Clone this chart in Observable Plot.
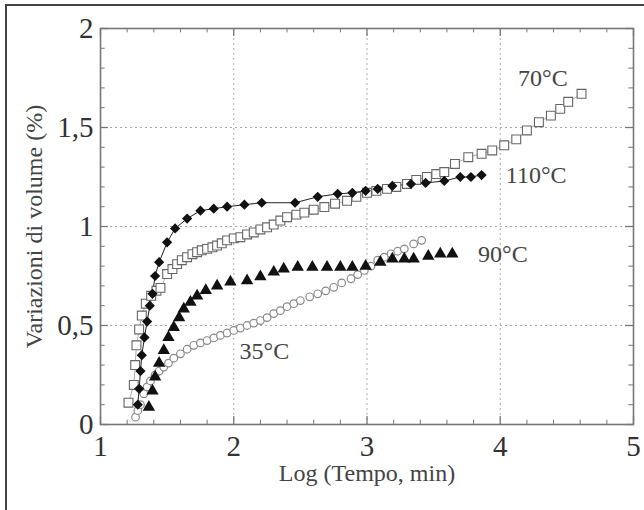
<!DOCTYPE html>
<html>
<head>
<meta charset="utf-8">
<script src="https://cdn.jsdelivr.net/npm/d3@7"></script>
<script src="https://cdn.jsdelivr.net/npm/@observablehq/plot@0.6"></script>
<style>
  html, body { margin: 0; padding: 0; background: #fff; }
  #wrap { position: relative; width: 644px; height: 510px; overflow: hidden; }
  #frame { position: absolute; left: 5px; top: 4px; width: 650px; height: 520px;
           border-left: 2px solid #444; border-top: 2px solid #444; box-sizing: border-box; pointer-events: none; }
  #chart { position: absolute; left: 0; top: 0; }
</style>
</head>
<body>
<div id="wrap"><div id="chart"></div><div id="frame"></div></div>
<script>
// ---- data ----
const s110x = [1.28,1.29,1.30,1.31,1.33,1.35,1.37,1.39,1.41,1.44,1.50,1.56,1.65,1.75,1.85,1.95,2.08,2.21,2.46,2.63,2.78,2.89,2.99,3.08,3.19,3.33,3.44,3.58,3.70,3.78,3.86];
const s110y = [0.10,0.18,0.27,0.35,0.44,0.52,0.60,0.66,0.75,0.82,0.92,0.99,1.04,1.08,1.09,1.10,1.11,1.12,1.12,1.15,1.165,1.17,1.18,1.19,1.205,1.215,1.22,1.23,1.25,1.25,1.26];

const s70x = [1.21,1.25,1.26,1.27,1.29,1.31,1.34,1.38,1.42,1.45,1.50,1.54,1.575,1.61,1.65,1.69,1.725,1.76,1.80,1.84,1.875,1.91,1.95,2.00,2.05,2.10,2.15,2.20,2.25,2.30,2.35,2.40,2.47,2.53,2.60,2.68,2.76,2.85,2.92,3.00,3.07,3.15,3.22,3.30,3.37,3.45,3.52,3.58,3.66,3.76,3.86,3.94,4.03,4.12,4.20,4.29,4.38,4.45,4.51,4.61];
const s70y = [0.11,0.20,0.30,0.40,0.48,0.55,0.61,0.65,0.675,0.69,0.76,0.785,0.81,0.83,0.845,0.86,0.87,0.88,0.887,0.895,0.904,0.915,0.93,0.94,0.946,0.96,0.97,0.985,0.996,1.01,1.03,1.047,1.06,1.07,1.085,1.098,1.115,1.13,1.15,1.17,1.18,1.19,1.20,1.215,1.235,1.25,1.265,1.275,1.316,1.35,1.367,1.384,1.41,1.44,1.485,1.527,1.56,1.594,1.63,1.67];

const s90x = [1.363,1.39,1.41,1.44,1.475,1.51,1.55,1.59,1.625,1.675,1.725,1.79,1.875,1.975,2.10,2.20,2.30,2.375,2.48,2.59,2.70,2.80,2.89,2.99,3.10,3.19,3.28,3.35,3.46,3.55,3.64];
const s90y = [0.088,0.17,0.24,0.31,0.374,0.44,0.49,0.54,0.584,0.618,0.65,0.677,0.70,0.72,0.727,0.747,0.77,0.786,0.795,0.795,0.795,0.795,0.795,0.80,0.82,0.836,0.836,0.836,0.85,0.862,0.862];

const s35x = [1.263,1.28,1.30,1.325,1.35,1.375,1.41,1.44,1.475,1.51,1.55,1.60,1.65,1.70,1.75,1.80,1.85,1.90,1.95,2.00,2.05,2.10,2.15,2.20,2.25,2.30,2.35,2.40,2.45,2.50,2.57,2.63,2.69,2.75,2.81,2.88,2.93,2.98,3.03,3.08,3.13,3.18,3.23,3.28,3.35,3.41];
const s35y = [0.037,0.07,0.10,0.155,0.19,0.22,0.25,0.27,0.29,0.31,0.335,0.357,0.38,0.40,0.412,0.424,0.437,0.45,0.462,0.475,0.487,0.50,0.512,0.525,0.54,0.56,0.575,0.595,0.61,0.626,0.645,0.66,0.675,0.693,0.715,0.736,0.757,0.778,0.80,0.83,0.845,0.862,0.875,0.887,0.912,0.93];

const labelText = ["70°C","110°C","90°C","35°C"];
const labelX = [4.32, 4.27, 4.02, 2.23];
const labelY = [1.75, 1.26, 0.86, 0.37];

const xTicks = [1,2,3,4,5];
const yTicks = [0,0.5,1,1.5,2];
const xGrid = [2,3,4];
const yGrid = [0.5,1,1.5];
const yMinor = d3.range(0.1, 2.0, 0.1).map(v => +v.toFixed(1)).filter(v => !yTicks.includes(v));
const xMinor = d3.range(1.2, 5, 0.2).map(v => +v.toFixed(1)).filter(v => !xTicks.includes(v));

const xTitle = "Log (Tempo, min)";
const yTitle = "Variazioni di volume (%)";

// ---- build tables ----
const zip = (xs, ys) => xs.map((x, i) => ({x, y: ys[i]}));
const d110 = zip(s110x, s110y), d70 = zip(s70x, s70y), d90 = zip(s90x, s90y), d35 = zip(s35x, s35y);
const labels = labelText.map((t, i) => ({t, x: labelX[i], y: labelY[i]}));

const font = "'Liberation Serif', 'Times New Roman', serif";
const axisColor = "#777";

const chart = Plot.plot({
  width: 644, height: 510,
  marginLeft: 100, marginRight: 11, marginTop: 28, marginBottom: 86,
  x: {domain: [1, 5]},
  y: {domain: [0, 2]},
  style: {fontFamily: font, background: "transparent", color: "#333"},
  marks: [
    // grid
    Plot.ruleX(xGrid, {stroke: "#aaa", strokeDasharray: "2,3", strokeWidth: 1}),
    Plot.ruleY(yGrid, {stroke: "#aaa", strokeDasharray: "2,3", strokeWidth: 1}),
    // minor ticks (inward)
    Plot.ruleY(yMinor, {x1: 1, x2: 1.035, stroke: axisColor}),
    Plot.ruleY(yMinor, {x1: 5, x2: 4.965, stroke: axisColor}),
    Plot.ruleX(xMinor, {y1: 0, y2: 0.022, stroke: axisColor}),
    Plot.ruleX(xMinor, {y1: 2, y2: 1.978, stroke: axisColor}),
    // major ticks (inward)
    Plot.ruleY(yTicks, {x1: 1, x2: 1.06, stroke: axisColor, strokeWidth: 1.3}),
    Plot.ruleY(yTicks, {x1: 5, x2: 4.94, stroke: axisColor, strokeWidth: 1.3}),
    Plot.ruleX(xTicks, {y1: 0, y2: 0.04, stroke: axisColor, strokeWidth: 1.3}),
    Plot.ruleX(xTicks, {y1: 2, y2: 1.96, stroke: axisColor, strokeWidth: 1.3}),
    // frame
    Plot.frame({stroke: axisColor, strokeWidth: 1.6}),
    // axes labels
    Plot.axisX(xTicks, {tickSize: 0, tickPadding: 11, fontSize: 29, fill: "#333", label: null,
      tickFormat: d => String(d)}),
    Plot.axisY(yTicks, {tickSize: 0, tickPadding: 7, fontSize: 29, fill: "#333", label: null,
      tickFormat: d => String(d).replace(".", ",")}),
    // series lines
    Plot.line(d110, {x: "x", y: "y", stroke: "#222", strokeWidth: 1}),
    Plot.line(d70, {x: "x", y: "y", stroke: "#999", strokeWidth: 0.8}),
    // series markers
    Plot.dot(d35, {x: "x", y: "y", r: 3.8, stroke: "#8a8a8a", fill: "white", strokeWidth: 1.2}),
    Plot.dot(d90, {x: "x", y: "y", symbol: "triangle", r: 4.6, fill: "#111", stroke: "none"}),
    Plot.dot(d70, {x: "x", y: "y", symbol: "square", r: 5, stroke: "#666", fill: "white", strokeWidth: 1.1}),
    Plot.dot(d110, {x: "x", y: "y", symbol: "diamond2", r: 4.6, fill: "#111", stroke: "none"}),
    // series labels
    Plot.text(labels, {x: "x", y: "y", text: "t", fontSize: 24, fill: "#444", textAnchor: "middle"}),
    // axis titles
    Plot.text([xTitle], {frameAnchor: "bottom", dy: 56, fontSize: 24, fill: "#444", textAnchor: "middle"}),
    Plot.text([yTitle], {frameAnchor: "left", dx: -66, rotate: -90, fontSize: 24, fill: "#444", textAnchor: "middle"})
  ]
});
document.getElementById("chart").append(chart);
</script>
</body>
</html>
